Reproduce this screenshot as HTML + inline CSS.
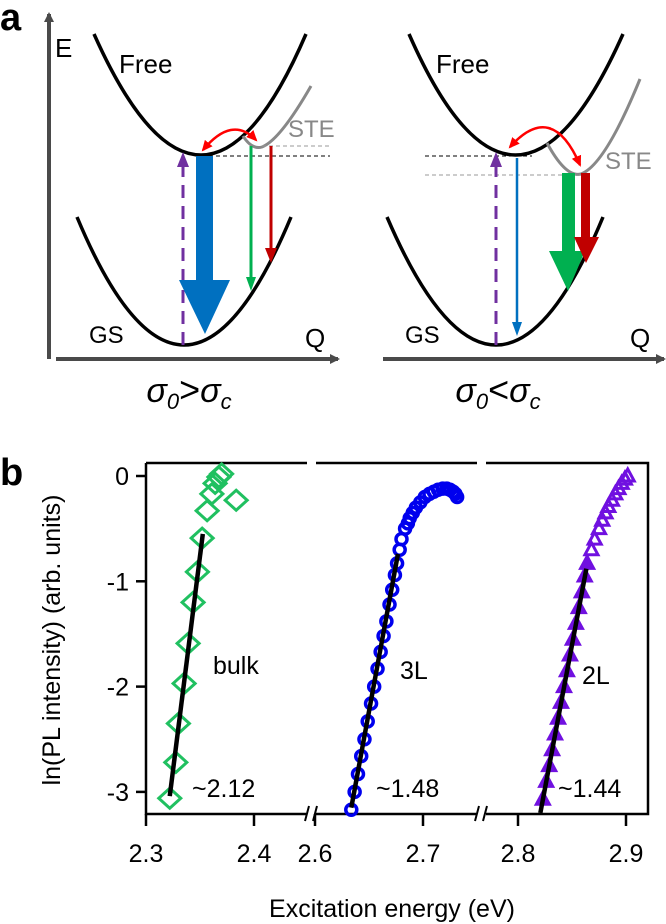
<!DOCTYPE html>
<html><head><meta charset="utf-8"><style>
html,body{margin:0;padding:0;background:#fff;}
svg{display:block;font-family:"Liberation Sans",Arial,sans-serif;}
</style></head><body>
<svg id="fig" width="666" height="924" viewBox="0 0 666 924" xmlns="http://www.w3.org/2000/svg">
<defs>
<marker id="ah" markerWidth="10" markerHeight="10" refX="8" refY="5" orient="auto" markerUnits="userSpaceOnUse"><path d="M0,0 L10,5 L0,10 z" fill="#4a4a4a"/></marker>
<marker id="rh" markerWidth="12" markerHeight="12" refX="9" refY="6" orient="auto-start-reverse" markerUnits="userSpaceOnUse"><path d="M0,1 L11,6 L0,11 z" fill="#ff0000"/></marker>
</defs>
<g>
<text x="0" y="30" font-size="38" font-weight="bold">a</text>
<line x1="49" y1="359" x2="49" y2="14" stroke="#4a4a4a" stroke-width="4" marker-end="url(#ah)"/>
<line x1="56" y1="359" x2="338" y2="359" stroke="#4a4a4a" stroke-width="4" marker-end="url(#ah)"/>
<line x1="383" y1="359" x2="664" y2="359" stroke="#4a4a4a" stroke-width="4" marker-end="url(#ah)"/>
<text x="55" y="57" font-size="26">E</text>
<path d="M94,34 Q202,276 306,34" fill="none" stroke="#000" stroke-width="3.5"/>
<path d="M77,217 Q184,473 291,217" fill="none" stroke="#000" stroke-width="3.5"/>
<path d="M243,136 Q252,150 262,147 Q280,140 311,86" fill="none" stroke="#888" stroke-width="3"/>
<line x1="202" y1="156" x2="330" y2="156" stroke="#000" stroke-width="1" stroke-dasharray="4,3"/>
<line x1="262" y1="146" x2="330" y2="146" stroke="#999" stroke-width="1" stroke-dasharray="4,3"/>
<line x1="183" y1="345" x2="183" y2="165" stroke="#7030a0" stroke-width="3" stroke-dasharray="13,8"/>
<path d="M177,167 L183,152 L189,167z" fill="#7030a0"/>
<rect x="196" y="156" width="17" height="126" fill="#0070c0"/>
<path d="M179,280 L230,280 L205,334z" fill="#0070c0"/>
<line x1="251" y1="146" x2="251" y2="280" stroke="#00b050" stroke-width="3"/>
<path d="M246,277 L256,277 L251,291z" fill="#00b050"/>
<line x1="271" y1="146" x2="271" y2="252" stroke="#c00000" stroke-width="3"/>
<path d="M265,248 L277,248 L271,263z" fill="#c00000"/>
<path d="M203,150 Q232,115 256,140" fill="none" stroke="#ff0000" stroke-width="2.5" marker-start="url(#rh)" marker-end="url(#rh)"/>
<text x="119" y="73" font-size="26">Free</text>
<text x="288" y="137" font-size="24" fill="#888">STE</text>
<text x="89" y="343" font-size="24">GS</text>
<text x="305" y="347" font-size="26">Q</text>
<text x="189" y="402" font-size="34" text-anchor="middle" font-style="italic">σ<tspan font-size="22" dy="7">0</tspan><tspan dy="-7" font-style="normal" font-size="36">&gt;</tspan>σ<tspan font-size="22" dy="7">c</tspan></text>
<path d="M409,34 Q515,276 623,34" fill="none" stroke="#000" stroke-width="3.5"/>
<path d="M387,217 Q497,473 603,217" fill="none" stroke="#000" stroke-width="3.5"/>
<path d="M547,143 Q566,178 581,174 Q605,165 640,79" fill="none" stroke="#888" stroke-width="3"/>
<line x1="425" y1="156" x2="532" y2="156" stroke="#000" stroke-width="1" stroke-dasharray="4,3"/>
<line x1="425" y1="175" x2="581" y2="175" stroke="#999" stroke-width="1" stroke-dasharray="4,3"/>
<line x1="496" y1="345" x2="496" y2="165" stroke="#7030a0" stroke-width="3" stroke-dasharray="13,8"/>
<path d="M490,167 L496,152 L502,167z" fill="#7030a0"/>
<line x1="517" y1="158" x2="517" y2="325" stroke="#0070c0" stroke-width="2.5"/>
<path d="M512,322 L522,322 L517,336z" fill="#0070c0"/>
<rect x="562" y="173" width="13" height="80" fill="#00b050"/>
<path d="M549,251 L585,251 L568,291z" fill="#00b050"/>
<rect x="581" y="173" width="9" height="66" fill="#c00000"/>
<path d="M574,237 L599,237 L586,263z" fill="#c00000"/>
<path d="M510,147 Q552,100 580,165" fill="none" stroke="#ff0000" stroke-width="2.5" marker-start="url(#rh)" marker-end="url(#rh)"/>
<text x="436" y="73" font-size="26">Free</text>
<text x="605" y="169" font-size="24" fill="#888">STE</text>
<text x="405" y="343" font-size="24">GS</text>
<text x="630" y="347" font-size="26">Q</text>
<text x="498" y="402" font-size="34" text-anchor="middle" font-style="italic">σ<tspan font-size="22" dy="7">0</tspan><tspan dy="-7" font-style="normal" font-size="36">&lt;</tspan>σ<tspan font-size="22" dy="7">c</tspan></text>
</g>
<g id="panelb">
<text x="0" y="485" font-size="38" font-weight="bold">b</text>
</g>
</svg>
<script>
const yTicks=[0,-1,-2,-3];
const xTicks=[2.3,2.4,2.6,2.7,2.8,2.9];
const xTickLabels=["2.3","2.4","2.6","2.7","2.8","2.9"];
const bulkX=[2.322,2.3276,2.330,2.3353,2.339,2.3436,2.3476,2.352,2.3566,2.361,2.364,2.3675,2.370,2.3835];
const bulkY=[-3.06,-2.72,-2.35,-1.97,-1.59,-1.20,-0.91,-0.59,-0.33,-0.17,-0.07,-0.01,0.02,-0.23];
const l3X=[2.6336,2.6367,2.6398,2.6428,2.6458,2.6488,2.6519,2.6548,2.6579,2.6608,2.6635,2.6661,2.6690,2.6715,2.6740,2.6760,2.6784,2.6801,2.6834,2.686,2.6877,2.6905,2.6934,2.6975,2.7017,2.706,2.71,2.714,2.7183,2.722,2.725,2.728,2.73,2.7316];
const l3Y=[-3.17,-3.0,-2.83,-2.66,-2.5,-2.33,-2.16,-2.0,-1.83,-1.67,-1.52,-1.38,-1.22,-1.08,-0.94,-0.83,-0.7,-0.6,-0.5,-0.45,-0.4,-0.35,-0.3,-0.25,-0.2,-0.17,-0.15,-0.13,-0.12,-0.12,-0.13,-0.15,-0.17,-0.2];
const l2X=[2.823,2.8261,2.8289,2.8316,2.8343,2.8371,2.8398,2.8426,2.8453,2.8481,2.8508,2.8536,2.8563,2.8591,2.8618,2.864,2.868,2.871,2.875,2.878,2.881,2.8836,2.887,2.890,2.893,2.896,2.899,2.9016];
const l2Y=[-3.07,-2.9,-2.75,-2.6,-2.45,-2.3,-2.15,-2.0,-1.85,-1.7,-1.55,-1.4,-1.25,-1.1,-0.95,-0.83,-0.7,-0.6,-0.5,-0.42,-0.35,-0.29,-0.23,-0.17,-0.12,-0.07,-0.03,0.0];
const fitBulkX=[2.322,2.3526], fitBulkY=[-3.04,-0.55];
const fit3X=[2.6336,2.6768], fit3Y=[-3.15,-0.74];
const fit2X=[2.8207,2.8633], fit2Y=[-3.2,-0.88];
const slopeLabels=["~2.12","~1.48","~1.44"];

const NS="http://www.w3.org/2000/svg";
const g=document.getElementById('panelb');
function X(v){ if(v<2.5) return 146+(v-2.3)*1080; if(v<2.75) return 423+(v-2.7)*1080; return 518+(v-2.8)*1080; }
function Y(v){ return 476-v*105.3; }
function mk(tag,attrs,parent){const e=document.createElementNS(NS,tag);for(const k in attrs)e.setAttribute(k,attrs[k]);(parent||g).appendChild(e);return e;}

let e;
e=mk('path',{d:'M146,463 L146,814 L648,814 L648,463 L486,463 M477,463 L316,463 M307,463 L146,463',fill:'none',stroke:'#000','stroke-width':2.5});


[311,481].forEach(bx=>{
  e=mk('rect',{x:bx-5,y:808,width:10,height:12,fill:'#fff'});
  e=mk('path',{d:`M${bx-6},821 L${bx-2},806 M${bx+2},821 L${bx+6},806`,stroke:'#000','stroke-width':2,fill:'none'});
  
  
});
yTicks.forEach(t=>{
  mk('line',{x1:136,y1:Y(t),x2:146,y2:Y(t),stroke:'#000','stroke-width':2.5});
  e=mk('text',{x:129,y:Y(t)+9,'font-size':25,'text-anchor':'end'});
  e.textContent=t===0?'0':String(t);
  
  
});
xTicks.forEach((t,i)=>{
  mk('line',{x1:X(t),y1:814,x2:X(t),y2:826,stroke:'#000','stroke-width':2.5});
  e=mk('text',{x:X(t),y:862,'font-size':25,'text-anchor':'middle'});
  e.textContent=xTickLabels[i];
  
  
});
e=mk('text',{x:392,y:917,'font-size':25,'text-anchor':'middle'});
e.textContent='Excitation energy (eV)';


e=mk('text',{x:0,y:0,'font-size':25,'text-anchor':'middle',transform:'translate(60,640) rotate(-90)'});
e.textContent='ln(PL intensity) (arb. units)';



bulkX.forEach((v,i)=>{
  const cx=X(v),cy=Y(bulkY[i]);
  e=mk('path',{d:`M${cx},${cy-10} L${cx+11},${cy} L${cx},${cy+10} L${cx-11},${cy} Z`,fill:'none',stroke:'#20c060','stroke-width':3});
  
  
});
l3X.forEach((v,i)=>{
  e=mk('circle',{cx:X(v),cy:Y(l3Y[i]),r:5.5,fill:'none',stroke:'#0000ee','stroke-width':3.5});
  
  
});
l2X.forEach((v,i)=>{
  const cx=X(v),cy=Y(l2Y[i]);
  e=mk('path',{d:`M${cx},${cy-7} L${cx+6.5},${cy+5} L${cx-6.5},${cy+5} Z`,fill:i<16?'#7010e0':'none',stroke:'#7010e0','stroke-width':3});
  
  
});
[[fitBulkX,fitBulkY,'bulk-fit-line'],[fit3X,fit3Y,'3l-fit-line'],[fit2X,fit2Y,'2l-fit-line']].forEach(f=>{
  e=mk('line',{x1:X(f[0][0]),y1:Y(f[1][0]),x2:X(f[0][1]),y2:Y(f[1][1]),stroke:'#000','stroke-width':4.5});
  
  
});
const lbls=[['bulk',213,674,'bulk-label'],['3L',400,679,'3l-label'],['2L',582,684,'2l-label'],[slopeLabels[0],192,797,'bulk-slope'],[slopeLabels[1],376,797,'3l-slope'],[slopeLabels[2],558,797,'2l-slope']];
lbls.forEach(l=>{
  e=mk('text',{x:l[1],y:l[2],'font-size':25});
  e.textContent=l[0];
  
  
});
</script>
</body></html>
